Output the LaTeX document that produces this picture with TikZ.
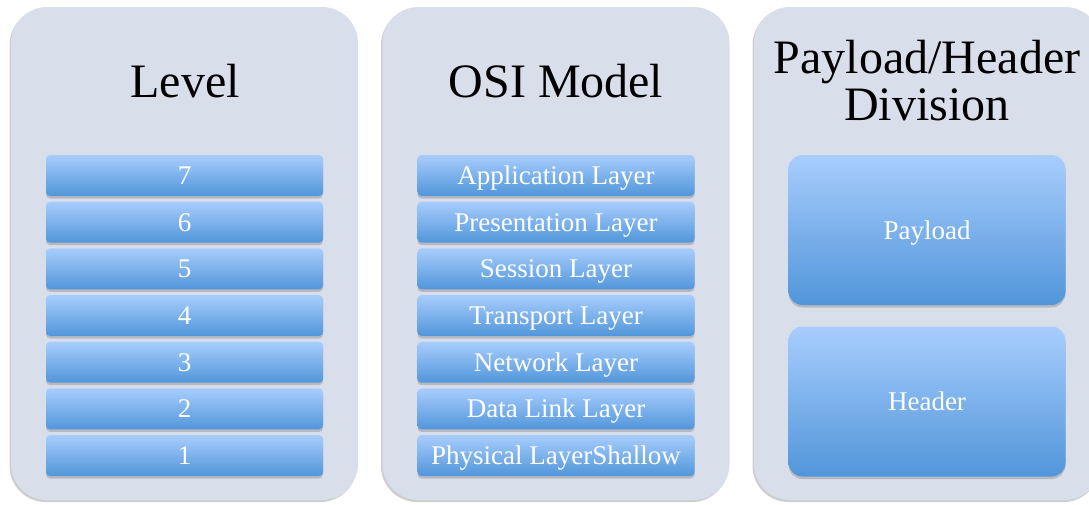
\documentclass[tikz,border=0pt]{standalone}
\usepackage{fontspec}
\setmainfont{Liberation Serif}
\usetikzlibrary{shadows,positioning}

\definecolor{panelgray}{HTML}{D9DEEB}
\definecolor{bartop}{HTML}{A8CDFD}
\definecolor{barbottom}{HTML}{5196DA}

\begin{document}
\begin{tikzpicture}[
  x=1pt, y=-1pt,
  every node/.style={align=center},
  panel/.style={rectangle, rounded corners=36pt, fill=panelgray, minimum width=347pt, minimum height=493pt,
                drop shadow={shadow xshift=-1.5pt, shadow yshift=-2pt, opacity=0.35, fill=black!55}},
  title/.style={font=\fontsize{48}{47}\selectfont, text=black},
  bar/.style={rectangle, rounded corners=4pt, top color=bartop, bottom color=barbottom, draw=none,
              minimum width=277pt, minimum height=41pt, inner sep=0pt, text=white,
              text height=18pt, text depth=0pt, font=\fontsize{27}{30}\selectfont,
              drop shadow={shadow xshift=0pt, shadow yshift=-2.5pt, opacity=0.3, fill=black!60}},
  block/.style={bar, rounded corners=14pt, minimum height=150pt},
]
\clip (0,0) rectangle (1089,504);

% ------------------------------------------------------------------ panels
\node[panel] (levelpanel) at (184.5,253.5) {};
\node[panel] (osipanel)   at (556,253.5)   {};
\node[panel] (splitpanel) at (927.5,253.5) {};

\node[title] (leveltitle) at (185,81) {Level};
\node[title] (osititle)   at (556,81) {OSI Model};
\node[title] (splittitle) at (927,81) {Payload/Header\\Division};

% -------------------------------------------------------------------- bars
\foreach \n/\lbl [count=\i] in {7/Application Layer, 6/Presentation Layer, 5/Session Layer,
                                4/Transport Layer, 3/Network Layer, 2/Data Link Layer,
                                1/Physical LayerShallow} {
  \node[bar] (lvl\n) at (184.5,{175.5+46.67*(\i-1)}) {\n};
  \node[bar] (osi\n) at (556,{175.5+46.67*(\i-1)})   {\lbl};
}

% ------------------------------------------------------------------ blocks
\node[block] (payload) at (927,230) {Payload};
\node[block] (header)  at (927,401.5) {Header};

\end{tikzpicture}
\end{document}
